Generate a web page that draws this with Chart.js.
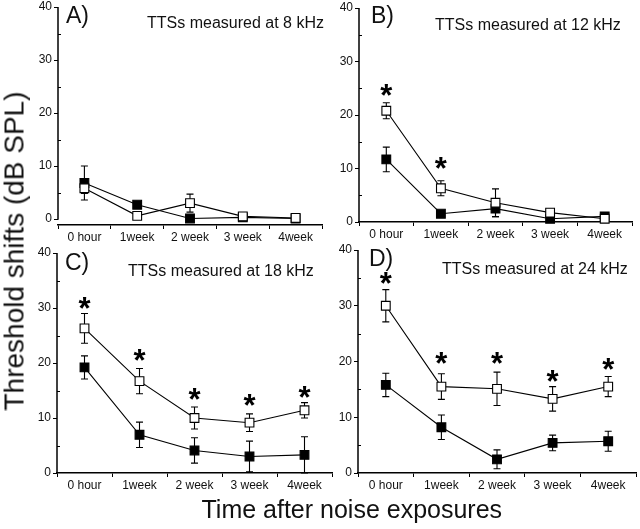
<!DOCTYPE html>
<html>
<head>
<meta charset="utf-8">
<script src="https://cdn.jsdelivr.net/npm/chart.js@4.4.0/dist/chart.umd.min.js"></script>
<style>
body { margin: 0; background: #fff; width: 640px; height: 529px; position: relative; overflow: hidden;
       font-family: "Liberation Sans", Arial, sans-serif; color: #111; }
canvas { position: absolute; }
.txt { position: absolute; white-space: nowrap; line-height: 1; }
</style>
</head>
<body>
<canvas id="panel-a"></canvas>
<canvas id="panel-b"></canvas>
<canvas id="panel-c"></canvas>
<canvas id="panel-d"></canvas>
<script>
const timeLabels = ["0 hour", "1week", "2 week", "3 week", "4week"];

// 8 kHz
const openA = [5.8, 0.6, 3.0, 0.5, 0.2];
const openAErr = [1.0, 0.2, 1.7, 0.3, 0.1];
const filledA = [6.8, 2.7, 0.1, 0.3, 0.1];
const filledAErr = [3.2, 0.6, 0.2, 0.2, 0.1];
const starsA = [null, null, null, null, null];

// 12 kHz
const openB = [20.8, 6.3, 3.6, 1.75, 0.6];
const openBErr = [1.5, 1.4, 2.6, 0.4, 0.3];
const filledB = [11.7, 1.55, 2.5, 0.6, 1.05];
const filledBErr = [2.3, 0.6, 1.5, 0.3, 0.3];
const starsB = [24.7, 11.0, null, null, null];

// 18 kHz
const openC = [26.3, 16.7, 10.0, 9.15, 11.4];
const openCErr = [2.7, 2.3, 2.0, 1.6, 1.4];
const filledC = [19.2, 6.95, 4.1, 3.0, 3.3];
const filledCErr = [2.1, 2.3, 2.3, 2.8, 3.3];
const starsC = [31.0, 21.4, 14.4, 13.2, 14.7];

// 24 kHz
const openD = [30.0, 15.5, 15.1, 13.3, 15.5];
const openDErr = [2.9, 2.3, 3.0, 2.2, 1.8];
const filledD = [15.8, 8.2, 2.45, 5.4, 5.7];
const filledDErr = [2.1, 2.2, 1.7, 1.4, 1.8];
const starsD = [34.9, 20.7, 20.7, 17.4, 19.5];

const yTicks = [0, 5, 10, 15, 20, 25, 30, 35, 40];

const FONT = '"Liberation Sans", Arial, sans-serif';

const panelMarks = {
    id: "panelMarks",
    beforeDatasetsDraw(chart) {
        const ctx = chart.ctx;
        const yScale = chart.scales.y;
        const left = chart.chartArea.left;

        // y axis line runs from 0 to 40 only
        ctx.save();
        ctx.strokeStyle = "#000";
        ctx.lineWidth = 1.5;
        ctx.beginPath();
        ctx.moveTo(left, yScale.getPixelForValue(0) + 0.75);
        ctx.lineTo(left, yScale.getPixelForValue(40));
        ctx.stroke();
        ctx.lineWidth = 1;
        [5, 15, 25, 35].forEach(v => {
            const y = Math.round(yScale.getPixelForValue(v)) + 0.5;
            ctx.beginPath();
            ctx.moveTo(left, y);
            ctx.lineTo(left + 3, y);
            ctx.stroke();
        });

        // error bars
        ctx.lineWidth = 1.1;
        chart.data.datasets.forEach((ds, i) => {
            const meta = chart.getDatasetMeta(i);
            meta.data.forEach((pt, j) => {
                const err = ds.errors[j];
                if (!err) return;
                const top = yScale.getPixelForValue(ds.data[j] + err);
                const bottom = yScale.getPixelForValue(Math.max(ds.data[j] - err, 0));
                ctx.beginPath();
                ctx.moveTo(pt.x, top);
                ctx.lineTo(pt.x, bottom);
                ctx.moveTo(pt.x - 3.5, top);
                ctx.lineTo(pt.x + 3.5, top);
                ctx.moveTo(pt.x - 3.5, bottom);
                ctx.lineTo(pt.x + 3.5, bottom);
                ctx.stroke();
            });
        });
        ctx.restore();
    },
    afterDatasetsDraw(chart, args, opts) {
        const ctx = chart.ctx;
        const yScale = chart.scales.y;
        const meta = chart.getDatasetMeta(0);
        ctx.save();
        ctx.fillStyle = "#000";
        ctx.font = "bold 31px " + FONT;
        ctx.textAlign = "center";
        ctx.textBaseline = "alphabetic";
        const m = ctx.measureText("*");
        const shift = (m.actualBoundingBoxAscent - m.actualBoundingBoxDescent) / 2;
        opts.stars.forEach((s, j) => {
            if (s === null) return;
            ctx.fillText("*", meta.data[j].x, yScale.getPixelForValue(s) + shift);
        });
        ctx.restore();
    }
};

function makeDataset(values, errors, fillColor) {
    return {
        data: values,
        errors: errors,
        borderColor: "#000",
        borderWidth: 1.1,
        tension: 0,
        fill: false,
        clip: false,
        pointStyle: "rect",
        pointRadius: 6.2,
        pointBackgroundColor: fillColor,
        pointBorderColor: "#000",
        pointBorderWidth: 1.1
    };
}

function makePanel(canvasId, box, open, openErr, filled, filledErr, stars, yMin) {
    const canvas = document.getElementById(canvasId);
    canvas.width = box.right - box.left + 48;
    canvas.height = box.bottom - box.top + 40;
    canvas.style.left = (box.left - 40) + "px";
    canvas.style.top = (box.top - 10) + "px";

    new Chart(canvas, {
        type: "line",
        data: {
            labels: timeLabels,
            datasets: [
                makeDataset(open, openErr, "#fff"),
                makeDataset(filled, filledErr, "#000")
            ]
        },
        options: {
            responsive: false,
            animation: false,
            events: [],
            layout: { padding: { top: 10, right: 8, left: 0, bottom: 0 } },
            plugins: {
                legend: { display: false },
                tooltip: { enabled: false },
                panelMarks: { stars: stars }
            },
            scales: {
                x: {
                    type: "category",
                    offset: true,
                    afterFit: scale => { scale.height = 30; },
                    grid: { offset: true, drawOnChartArea: false, tickLength: 4, color: "#000", tickWidth: 1 },
                    border: { display: true, color: "#000", width: 1.5 },
                    ticks: { color: "#111", padding: 1, font: { family: FONT, size: 12 }, maxRotation: 0, autoSkip: false }
                },
                y: {
                    min: yMin,
                    max: 40,
                    afterFit: scale => { scale.width = 40; },
                    afterBuildTicks: scale => { scale.ticks = yTicks.map(v => ({ value: v })); },
                    grid: {
                        drawOnChartArea: false,
                        tickLength: 4,
                        tickWidth: 1,
                        tickColor: c => (c.tick && c.tick.value % 10 === 0) ? "#000" : "rgba(0,0,0,0)"
                    },
                    border: { display: false },
                    ticks: {
                        color: "#111",
                        padding: 2,
                        autoSkip: false,
                        font: { family: FONT, size: 12 },
                        callback: v => (v % 10 === 0 ? v : "")
                    }
                }
            }
        },
        plugins: [panelMarks]
    });
}

makePanel("panel-a", { left: 58, right: 322, top: 7, bottom: 225 }, openA, openAErr, filledA, filledAErr, starsA, -1.13);
makePanel("panel-b", { left: 359, right: 632, top: 8, bottom: 222 }, openB, openBErr, filledB, filledBErr, starsB, 0);
makePanel("panel-c", { left: 57, right: 332, top: 253, bottom: 473 }, openC, openCErr, filledC, filledCErr, starsC, 0);
makePanel("panel-d", { left: 358, right: 636, top: 250, bottom: 473 }, openD, openDErr, filledD, filledDErr, starsD, 0);

// text labels, placed by baseline
function addText(str, x, baseline, size) {
    const el = document.createElement("div");
    el.className = "txt";
    el.textContent = str;
    el.style.fontSize = size + "px";
    el.style.left = x + "px";
    el.style.top = (baseline - 0.8465 * size) + "px";
    document.body.appendChild(el);
    return el;
}

addText("A)", 66, 23, 23);
addText("B)", 371, 23, 23);
addText("C)", 65, 270, 23);
addText("D)", 369, 266, 23);
addText("TTSs measured at 8 kHz", 147, 29, 16);
addText("TTSs measured at 12 kHz", 435, 31, 16);
addText("TTSs measured at 18 kHz", 128, 277, 16);
addText("TTSs measured at 24 kHz", 442, 275, 16);

const xTitle = addText("Time after noise exposures", 0, 518, 25);
xTitle.style.left = (352 - xTitle.offsetWidth / 2) + "px";

const yTitle = document.createElement("div");
yTitle.className = "txt";
yTitle.textContent = "Threshold shifts (dB SPL)";
yTitle.style.fontSize = "28px";
yTitle.style.lineHeight = "28px";
document.body.appendChild(yTitle);
const w = yTitle.offsetWidth;
yTitle.style.left = (14 - w / 2) + "px";
yTitle.style.top = (251 - 14) + "px";
yTitle.style.transform = "rotate(-90deg)";
</script>
</body>
</html>
